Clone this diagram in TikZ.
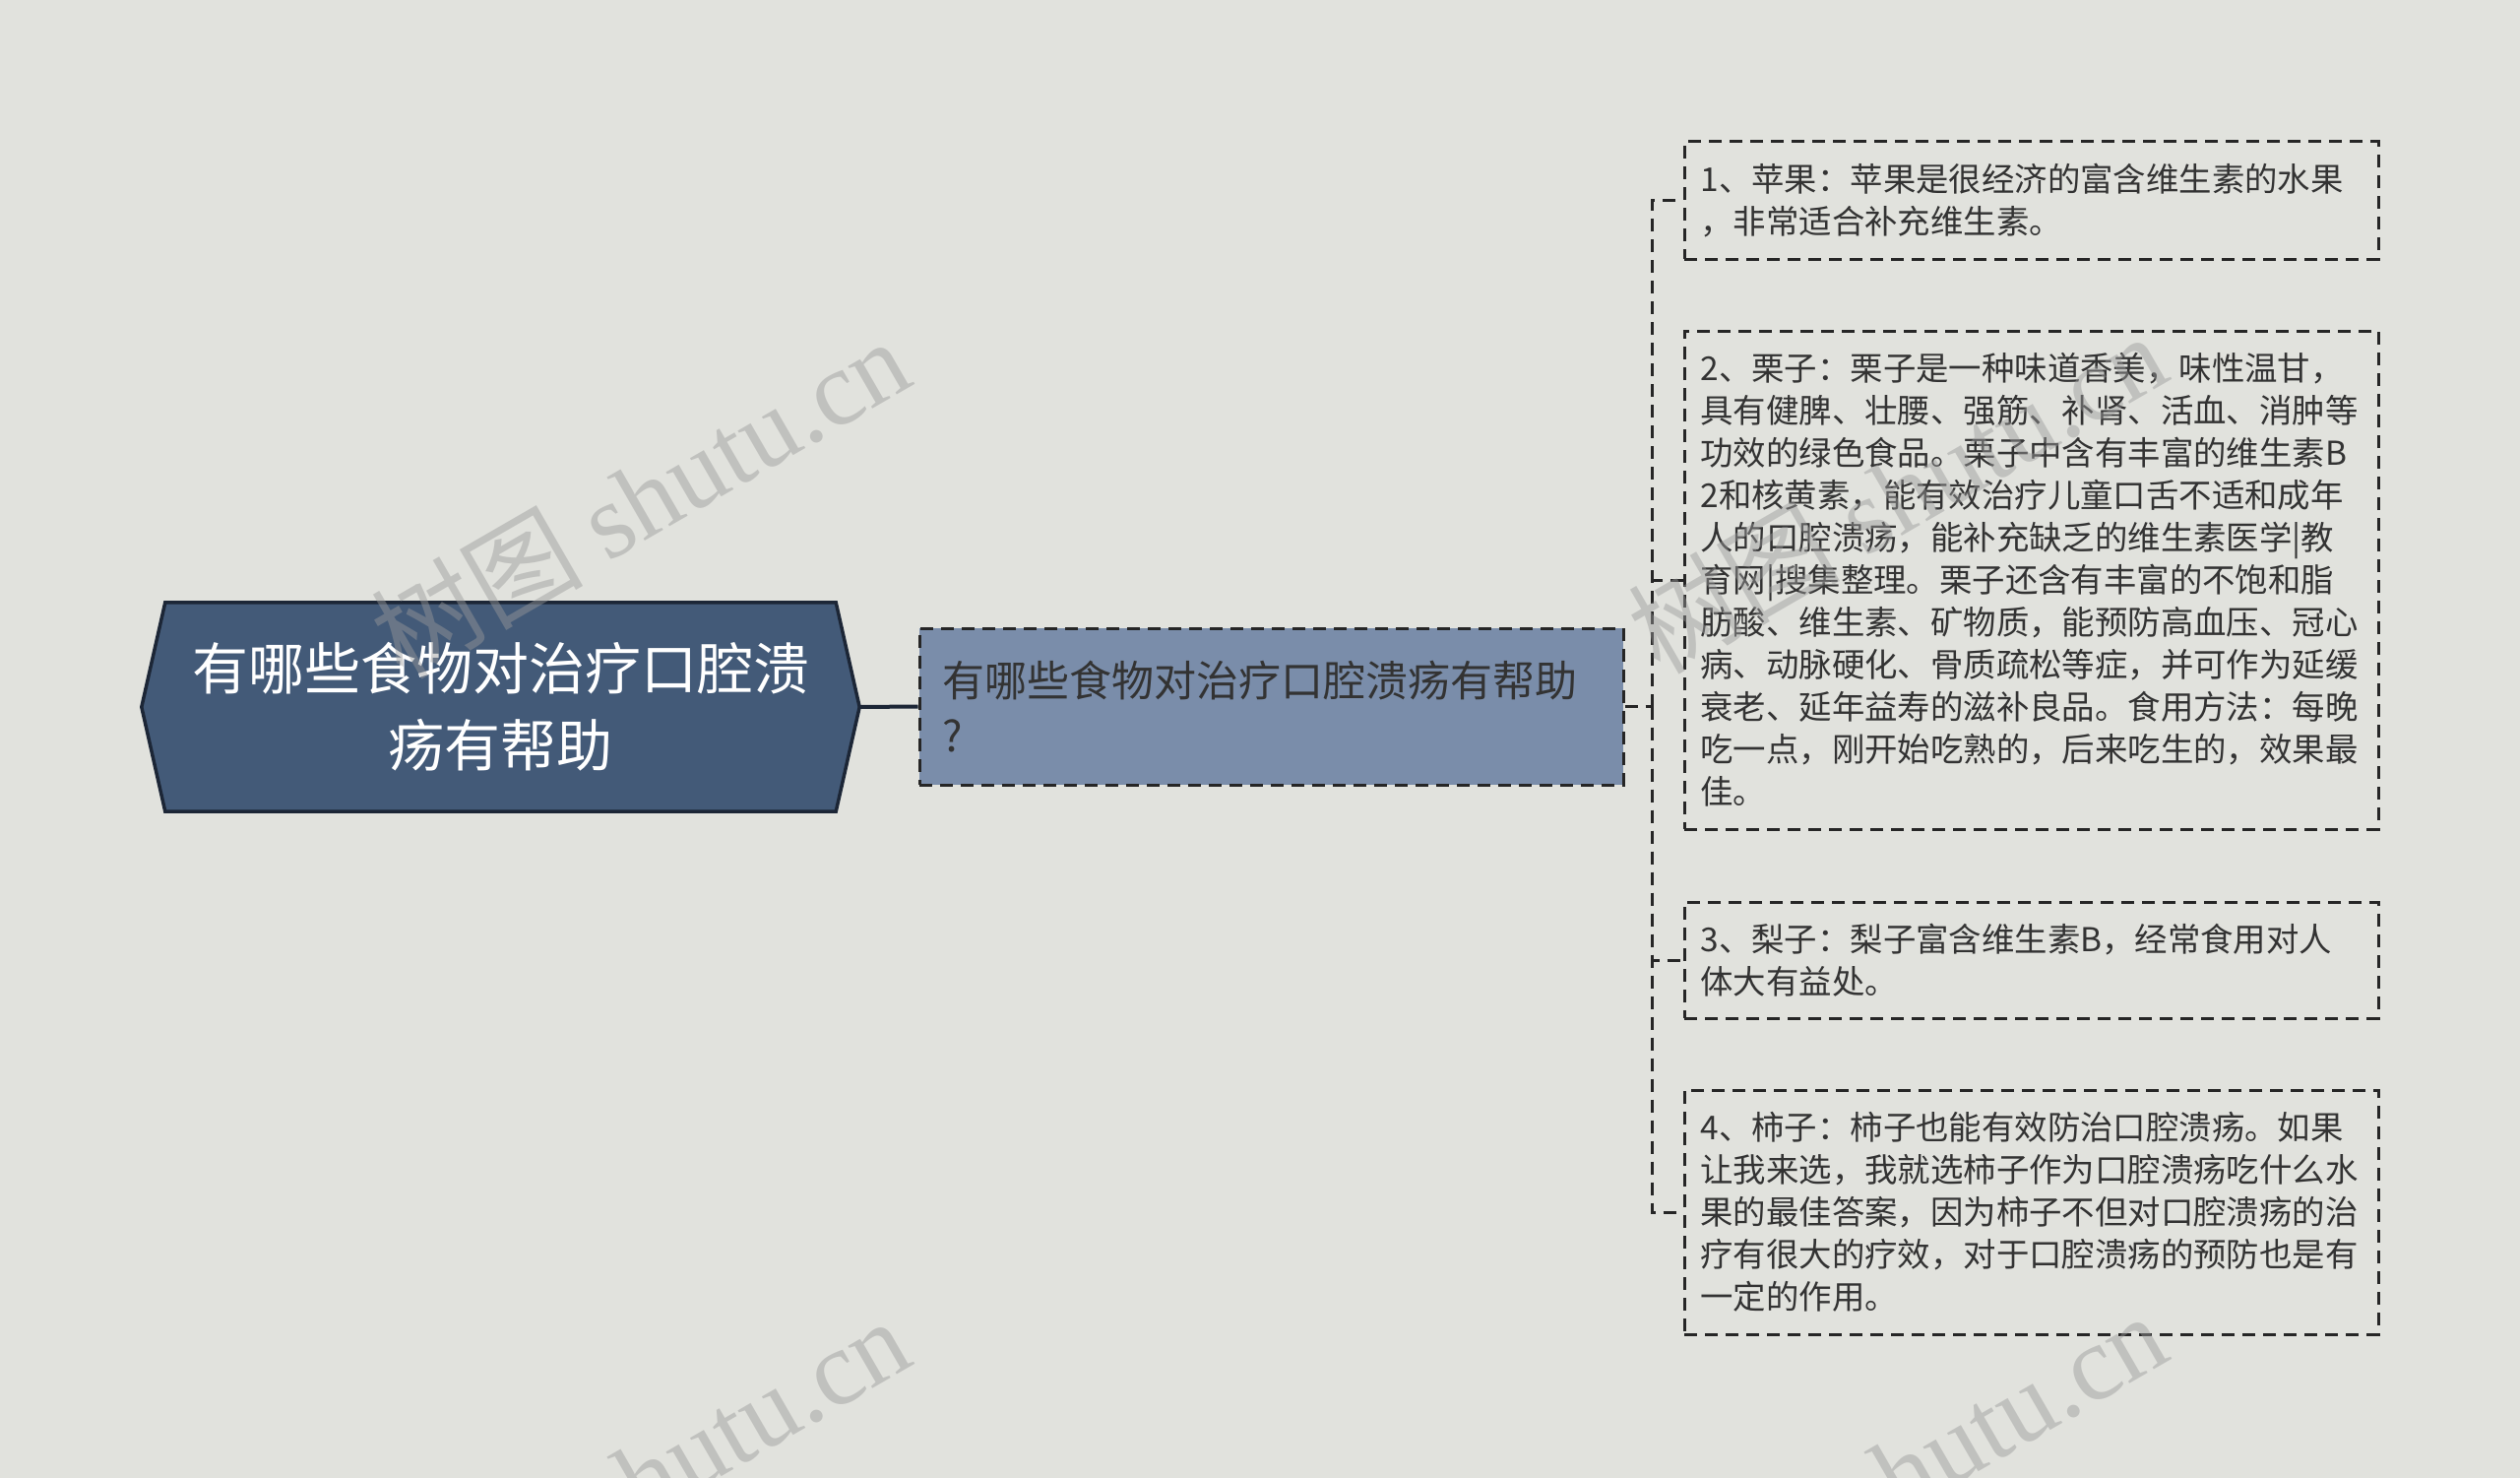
\documentclass[tikz,border=0pt]{standalone}
\usepackage{fontspec}
\setmainfont{Noto Sans CJK SC}
\newfontfamily\wmserif{Liberation Serif}
\usetikzlibrary{backgrounds,calc}
\definecolor{bgc}{HTML}{E1E2DD}
\definecolor{rootfill}{HTML}{435A78}
\definecolor{rootline}{HTML}{1C2636}
\definecolor{midfill}{HTML}{7A8DAA}
\definecolor{txt}{HTML}{333333}
\definecolor{wmc}{HTML}{9A9A9A}
\begin{document}
\begin{tikzpicture}[x=1pt,y=-1pt,
  roottext/.style={text=white, font=\fontsize{57pt}{78pt}\selectfont, align=center,
    minimum width=729pt, minimum height=212pt, inner sep=0pt},
  rootpoly/.style={fill=rootfill, draw=rootline, line width=3.5pt, line join=miter},
  dashline/.style={draw=black!85, line width=3pt, dash pattern=on 13pt off 8pt},
  midbox/.style={dashline, fill=midfill, text=txt, font=\fontsize{43pt}{56pt}\selectfont,
    align=left, text width=669pt, inner xsep=23pt, inner ysep=0pt,
    minimum height=159pt},
  childbox/.style={dashline, text=txt, font=\fontsize{33.4pt}{43pt}\selectfont,
    align=left, text width=672pt, inner xsep=16.5pt, inner ysep=0pt},
  conn/.style={dashline},
  rootconn/.style={draw=rootline, line width=4pt},
  wm/.style={text=wmc, text opacity=0.45, font=\fontsize{108pt}{108pt}\selectfont, rotate=30, inner sep=0pt}
]
\useasboundingbox (0,0) rectangle (2560,1501);

\node[roottext] (root) at (508.5,718) {有哪些食物对治疗口腔溃\\疡有帮助};

\begin{scope}[on background layer]
  \fill[bgc] (0,0) rectangle (2560,1501);
  \draw[rootpoly] ($(root.north west)+(24,0)$) -- ($(root.north east)+(-24,0)$)
    -- (root.east) -- ($(root.south east)+(-24,0)$) -- ($(root.south west)+(24,0)$)
    -- (root.west) -- cycle;
\end{scope}

\node[midbox] (mid) at (1291.5,717.5) {有哪些食物对治疗口腔溃疡有帮助\\?};

\node[childbox, minimum height=119pt] (c1) at (2063.5,203.5)
  {1、苹果：苹果是很经济的富含维生素的水果\\，非常适合补充维生素。};
\node[childbox, minimum height=506pt] (c2) at (2063.5,589)
  {2、栗子：栗子是一种味道香美，味性温甘，\\
   具有健脾、壮腰、强筋、补肾、活血、消肿等\\
   功效的绿色食品。栗子中含有丰富的维生素B\\
   2和核黄素，能有效治疗儿童口舌不适和成年\\
   人的口腔溃疡，能补充缺乏的维生素医学|教\\
   育网|搜集整理。栗子还含有丰富的不饱和脂\\
   肪酸、维生素、矿物质，能预防高血压、冠心\\
   病、动脉硬化、骨质疏松等症，并可作为延缓\\
   衰老、延年益寿的滋补良品。食用方法：每晚\\
   吃一点，刚开始吃熟的，后来吃生的，效果最\\
   佳。};
\node[childbox, minimum height=118pt] (c3) at (2063.5,975)
  {3、梨子：梨子富含维生素B，经常食用对人\\体大有益处。};
\node[childbox, minimum height=248pt] (c4) at (2063.5,1231)
  {4、柿子：柿子也能有效防治口腔溃疡。如果\\
   让我来选，我就选柿子作为口腔溃疡吃什么水\\
   果的最佳答案，因为柿子不但对口腔溃疡的治\\
   疗有很大的疗效，对于口腔溃疡的预防也是有\\
   一定的作用。};

\draw[rootconn] (root.east) -- (mid.west);

\coordinate (trunk) at (1678,717.5);
\draw[conn] (mid.east) -- (trunk);
\draw[conn] (trunk) |- (c1.west);
\draw[conn] (trunk) |- (c2.west);
\draw[conn] (trunk) |- (c3.west);
\draw[conn] (trunk) |- (c4.west);

\node[wm] (wm1) at (650,505) {树图 {\wmserif shutu.cn}};
\node[wm] (wm2) at (1927,500) {树图 {\wmserif shutu.cn}};
\node[wm] (wm3) at (650,1500) {树图 {\wmserif shutu.cn}};
\node[wm] (wm4) at (1927,1495) {树图 {\wmserif shutu.cn}};
\end{tikzpicture}
\end{document}
